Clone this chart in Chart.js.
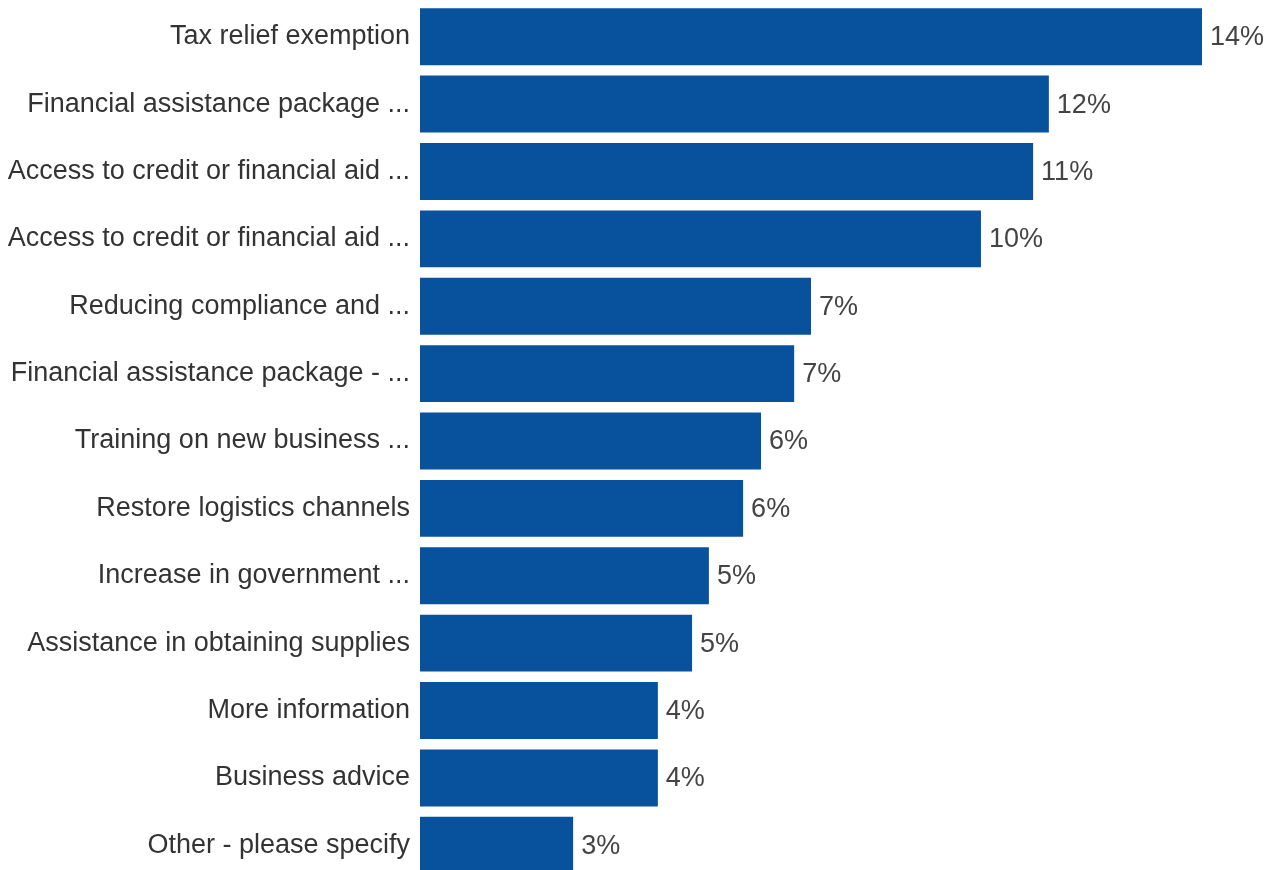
<!DOCTYPE html>
<html>
<head>
<meta charset="utf-8">
<script src="https://cdn.jsdelivr.net/npm/chart.js@4"></script>
<style>
    html, body { margin: 0; padding: 0; background: #fff; overflow: hidden; }
    #wrap { position: relative; width: 1275px; height: 882px; }
</style>
</head>
<body>
<div id="wrap"><canvas id="chart"></canvas></div>
<script>
// Support measures, share of responses (%)
const categories = [
    'Tax relief exemption',
    'Financial assistance package ...',
    'Access to credit or financial aid ...',
    'Access to credit or financial aid ...',
    'Reducing compliance and ...',
    'Financial assistance package - ...',
    'Training on new business ...',
    'Restore logistics channels',
    'Increase in government ...',
    'Assistance in obtaining supplies',
    'More information',
    'Business advice',
    'Other - please specify'
]
const shares = [14.4, 11.58, 11.29, 10.33, 7.2, 6.89, 6.28, 5.95, 5.32, 5.01, 4.38, 4.38, 2.82]

const barColor = '#08519c'
const fontFamily = '"Liberation Sans", Arial, sans-serif'

// Percent label at the end of each bar
const valueLabels = {
    id: 'valueLabels',
    afterDatasetsDraw(chart) {
        const ctx = chart.ctx
        const meta = chart.getDatasetMeta(0)
        ctx.save()
        ctx.font = '27px ' + fontFamily
        ctx.fillStyle = '#444444'
        ctx.textAlign = 'left'
        ctx.textBaseline = 'middle'
        meta.data.forEach((bar, i) => {
            ctx.fillText(Math.round(shares[i]) + '%', bar.x + 8, bar.y + 1)
        })
        ctx.restore()
    }
}

new Chart(document.getElementById('chart'), {
    type: 'bar',
    data: {
        labels: categories,
        datasets: [{
            data: shares,
            backgroundColor: barColor,
            borderWidth: 0,
            barPercentage: 0.845,
            categoryPercentage: 1
        }]
    },
    options: {
        indexAxis: 'y',
        responsive: true,
        maintainAspectRatio: false,
        animation: false,
        layout: { padding: { top: 3, bottom: 3, left: 0, right: 73 } },
        plugins: {
            legend: { display: false },
            tooltip: { enabled: false }
        },
        scales: {
            x: {
                display: false,
                min: 0,
                max: Math.max(...shares)
            },
            y: {
                grid: { display: false, drawTicks: false },
                border: { display: false },
                ticks: {
                    padding: 10,
                    color: '#333333',
                    font: { family: fontFamily, size: 27 }
                },
                afterFit(scale) {
                    scale.width = 420
                    scale.paddingTop = 0
                    scale.paddingBottom = 0
                }
            }
        }
    },
    plugins: [valueLabels]
})
</script>
</body>
</html>
